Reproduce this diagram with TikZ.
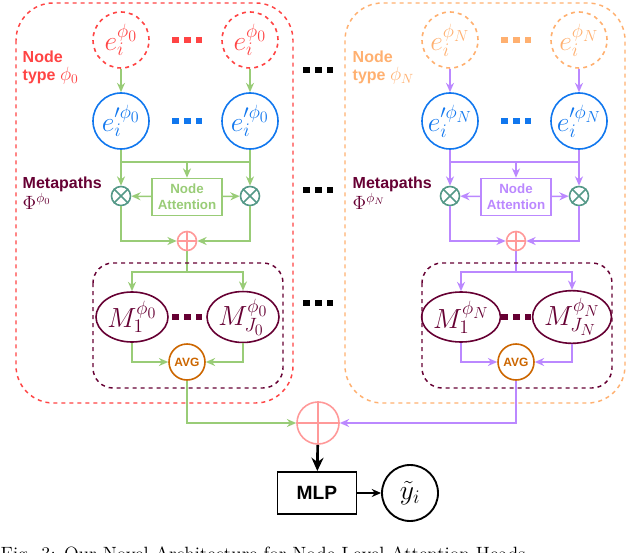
\documentclass[tikz,border=0pt]{standalone}
\usepackage{fontspec}
\newfontfamily\hv{Liberation Sans}
\usetikzlibrary{shapes.geometric,arrows.meta}
\definecolor{cred}{HTML}{FF4444}
\definecolor{corg}{HTML}{FFB070}
\definecolor{cblue}{HTML}{1177EE}
\definecolor{cgreen}{HTML}{99CC77}
\definecolor{cpurp}{HTML}{BB88FF}
\definecolor{cmar}{HTML}{660033}
\definecolor{cteal}{HTML}{559988}
\definecolor{cpink}{HTML}{FF9999}
\definecolor{cavg}{HTML}{CC6600}
\tikzset{
 every picture/.style={line width=1.1pt},
 circ/.style={circle,draw,line width=1.2pt,minimum size=56*0.75pt,inner sep=0pt},
 ell/.style={ellipse,draw=cmar,line width=1.2pt,text=cmar,minimum width=72*0.75pt,minimum height=50*0.75pt,inner sep=0pt},
 op/.style={circle,draw=cteal,line width=1.2pt,minimum size=19*0.75pt,inner sep=0pt},
 att/.style={draw,line width=1.2pt,minimum width=70*0.75pt,minimum height=37*0.75pt,align=center,inner sep=1pt,font=\hv\bfseries,text=#1},
 ar/.style={-{Stealth[length=7pt,width=6pt]},line width=1.1pt},
 dots/.style={line width=5pt,dash pattern=on 5pt off 4pt},
 lab/.style={anchor=north west,align=left,font=\hv\bfseries\large,inner sep=0pt},
}
\newcommand\oplussym[2]{%
 \draw[#2,line width=1.2pt] (#1.north)--(#1.south) (#1.east)--(#1.west);}
\newcommand\otimessym[1]{%
 \draw[cteal,line width=1.2pt] (#1.north east)--(#1.south west) (#1.north west)--(#1.south east);}
\newcommand\mypanel[6]{%
\begin{scope}[xshift=#2*0.75pt]
 \node[circ,draw=#3,dashed,text=#3] (#1t1) at (121,40) {\huge$e_i^{\phi_{#5}}$};
 \node[circ,draw=#3,dashed,text=#3] (#1t2) at (250,40) {\huge$e_i^{\phi_{#5}}$};
 \node[circ,draw=cblue,text=cblue] (#1b1) at (121,121) {\huge$e_i^{\prime\phi_{#5}}$};
 \node[circ,draw=cblue,text=cblue] (#1b2) at (250,121) {\huge$e_i^{\prime\phi_{#5}}$};
 \draw[#3,dots] (172,40)--(202,40);
 \draw[cblue,dots] (172,121)--(202,121);
 \draw[ar,#4] (#1t1)--(#1b1);
 \draw[ar,#4] (#1t2)--(#1b2);
 \node[att=#4,draw=#4] (#1na) at (187,197) {Node\\Attention};
 \node[op] (#1x1) at (121,196) {}; \otimessym{#1x1}
 \node[op] (#1x2) at (250,196) {}; \otimessym{#1x2}
 \coordinate (#1h) at (187,162);
 \draw[#4] (#1b1.south)|-(#1h) -| (#1b2.south);
 \draw[ar,#4] (#1b1.south)--(#1x1);
 \draw[ar,#4] (#1b2.south)--(#1x2);
 \draw[ar,#4] (#1h)--(#1na);
 \draw[ar,#4] (#1na)--(#1x1);
 \draw[ar,#4] (#1na)--(#1x2);
 \node[op,draw=cpink] (#1p) at (187,241) {}; \oplussym{#1p}{cpink}
 \draw[ar,#4] (#1x1)|-(#1p);
 \draw[ar,#4] (#1x2)|-(#1p);
 \node[ell] (#1m1) at (132,317) {\huge$M_1^{\phi_{#5}}$};
 \node[ell] (#1m2) at (243,317) {\huge$M_{J_{#6}}^{\phi_{#5}}$};
 \draw[cmar,dots] (172,317)--(202,317);
 \coordinate (#1h2) at (187,272);
 \draw[#4] (#1p)--(#1h2);
 \draw[ar,#4] (#1h2)-|(#1m1);
 \draw[ar,#4] (#1h2)-|(#1m2);
 \node[circle,draw=cavg,line width=1.2pt,minimum size=36*0.75pt,inner sep=0pt,text=cavg,font=\hv\bfseries\small] (#1avg) at (187,362) {AVG};
 \draw[ar,#4] (#1m1)|-(#1avg);
 \draw[ar,#4] (#1m2)|-(#1avg);
 \draw[cmar,dashed,rounded corners=15pt] (93,263) rectangle (283,388);
\end{scope}}
\begin{document}
\begin{tikzpicture}[x=0.75pt,y=-0.75pt]
\useasboundingbox (0,0) rectangle (630,552);
\begin{scope}
\clip (0,0) rectangle (630,552);
\draw[cred,dashed,rounded corners=28pt] (16,3) rectangle (293,403);
\draw[corg,dashed,rounded corners=28pt] (345,3) rectangle (625,403);
\mypanel{L}{0}{cred}{cgreen}{0}{0}
\mypanel{R}{329}{corg}{cpurp}{N}{N}
\node[lab,text=cred] (lab1) at (22,50) {Node\\type {\Large$\phi_0$}};
\node[lab,text=corg] (lab2) at (352,50) {Node\\type {\Large$\phi_N$}};
\node[lab,text=cmar] (lab3) at (22,176) {Metapaths\\{\Large$\Phi^{\phi_0}$}};
\node[lab,text=cmar] (lab4) at (352,176) {Metapaths\\{\Large$\Phi^{\phi_N}$}};
\foreach \yy in {70,190,303} \draw[black,dots] (303,\yy)--(333,\yy);
\node[circle,draw=cpink,line width=1.2pt,minimum size=42*0.75pt,inner sep=0pt] (big) at (318,423) {};
\oplussym{big}{cpink}
\draw[ar,cgreen] (Lavg)|-(big);
\draw[ar,cpurp] (Ravg)|-(big);
\node[draw,line width=1.4pt,minimum width=79*0.75pt,minimum height=42*0.75pt,font=\hv\bfseries\Large] (mlp) at (317,493) {MLP};
\node[circle,draw,line width=1.4pt,minimum size=56*0.75pt,inner sep=0pt] (y) at (410,493) {\huge$\tilde{y}_i$};
\draw[-{Stealth[length=10pt,width=9pt]},line width=2pt] (big)--(mlp);
\draw[ar,line width=1.4pt] (mlp)--(y);
\node[anchor=base west,font=\Large,inner sep=0pt] (cap) at (0,560) {Fig. 3: Our Novel Architecture for Node-Level Attention Heads};
\end{scope}
\end{tikzpicture}
\end{document}
